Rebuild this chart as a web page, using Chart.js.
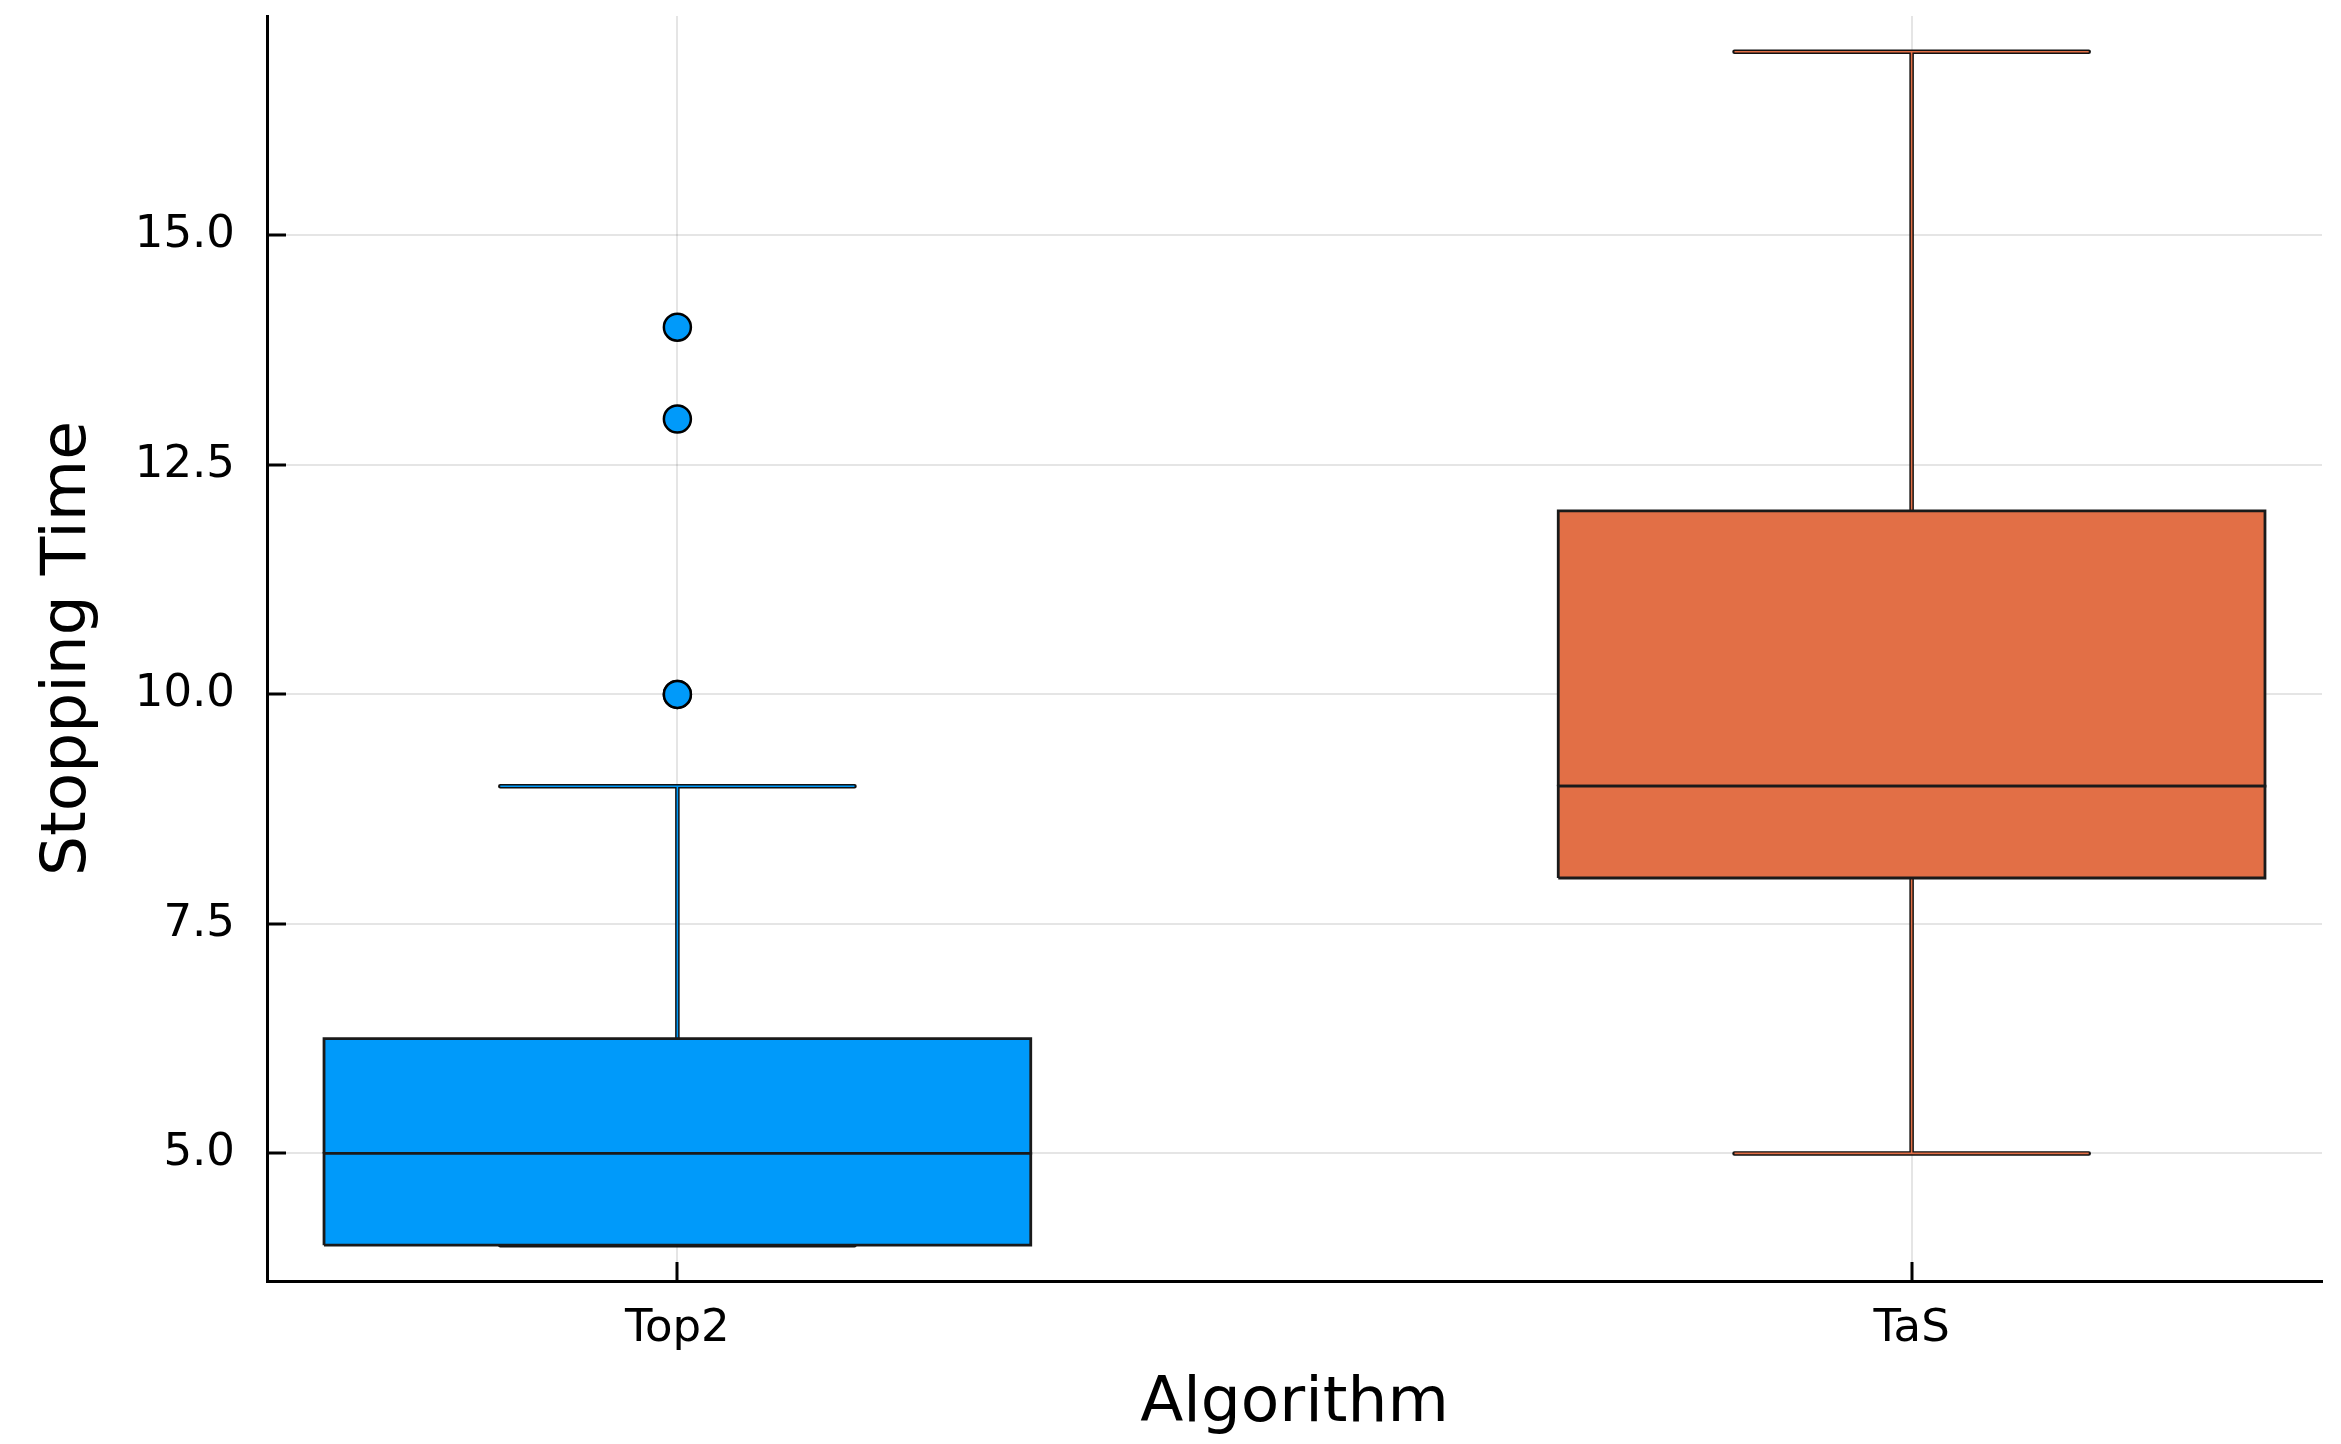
<!DOCTYPE html>
<html><head><meta charset="utf-8">
<script src="https://cdn.jsdelivr.net/npm/chart.js@4/dist/chart.umd.min.js"></script>
<style>html,body{margin:0;padding:0;background:#fff;overflow:hidden}</style>
</head><body>
<canvas id="c" width="2341" height="1444"></canvas>
<script>
// ---- data ----
const categories = ['Top2', 'TaS'];
const positions = [0.5, 1.5];
const lowerWhisker = [4, 5];
const q1 = [4, 8];
const medians = [5, 9];
const q3 = [6.25, 12];
const upperWhisker = [9, 17];
const outliers = [[10, 10, 13, 14], []];
const yTicks = [5, 7.5, 10, 12.5, 15];
const colors = ['#009AFA', '#E26F46'];

// ---- style constants ----
const BOX_HALF = 0.2863;
const CAP_HALF = 0.1435;
const FONT = 'DejaVu Sans';

const datasets = [];
categories.forEach((cat, i) => {
  const x = positions[i];
  const whisker = [
    {x: x, y: q3[i]}, {x: x, y: upperWhisker[i]}, {x: x, y: null},
    {x: x, y: lowerWhisker[i]}, {x: x, y: q1[i]}, {x: x, y: null},
    {x: x - CAP_HALF, y: upperWhisker[i]}, {x: x + CAP_HALF, y: upperWhisker[i]}, {x: x, y: null},
    {x: x - CAP_HALF, y: lowerWhisker[i]}, {x: x + CAP_HALF, y: lowerWhisker[i]}
  ];
  datasets.push({label: cat + ' whisker outline', data: whisker, borderColor: '#111', borderWidth: 4.5,
    pointRadius: 0, fill: false, order: 10, borderCapStyle: 'round'});
  datasets.push({label: cat + ' whisker', data: whisker, borderColor: colors[i], borderWidth: 1.6,
    pointRadius: 0, fill: false, order: 9});
  const halves = [[q1[i], medians[i]], [medians[i], q3[i]]];
  halves.forEach(([a, b], h) => {
    datasets.push({label: cat + ' box ' + h, data: [
      {x: x - BOX_HALF, y: a}, {x: x + BOX_HALF, y: a}, {x: x + BOX_HALF, y: b},
      {x: x - BOX_HALF, y: b}, {x: x - BOX_HALF, y: a}],
      borderColor: '#1a1a1a', borderWidth: 2.8, backgroundColor: colors[i],
      fill: 'shape', pointRadius: 0, order: 5, borderJoinStyle: 'miter'});
  });
  if (outliers[i].length) {
    datasets.push({label: cat + ' outliers', data: outliers[i].map(v => ({x: x, y: v})),
      showLine: false, pointRadius: 13.5, pointBorderWidth: 2.5,
      pointBackgroundColor: colors[i], pointBorderColor: '#000', order: 1});
  }
});

const innerTicks = {
  id: 'innerTicks',
  afterDraw(chart) {
    const {ctx, chartArea: a, scales: {x, y}} = chart;
    ctx.save();
    ctx.strokeStyle = '#000';
    ctx.lineWidth = 3;
    ctx.beginPath();
    y.ticks.forEach(t => {
      const py = Math.round(y.getPixelForValue(t.value));
      ctx.moveTo(a.left, py); ctx.lineTo(a.left + 19, py);
    });
    x.ticks.forEach(t => {
      const px = Math.round(x.getPixelForValue(t.value));
      ctx.moveTo(px, a.bottom); ctx.lineTo(px, a.bottom - 19);
    });
    ctx.stroke();
    ctx.restore();
  }
};

new Chart(document.getElementById('c'), {
  type: 'line',
  data: {datasets},
  plugins: [innerTicks],
  options: {
    responsive: false,
    animation: false,
    devicePixelRatio: 1,
    layout: {padding: {left: 0, right: 19, top: 12, bottom: 0}},
    plugins: {legend: {display: false}, tooltip: {enabled: false}},
    elements: {line: {tension: 0}},
    scales: {
      x: {
        type: 'linear', min: 0.1675, max: 1.8325,
        afterBuildTicks: s => { s.ticks = positions.map(v => ({value: v})); },
        afterFit: s => { s.height = 163; s.paddingLeft = 0; s.paddingRight = 0; },
        ticks: {
          callback: v => categories[positions.indexOf(v)],
          font: {family: FONT, size: 45}, color: '#000', padding: 21, maxRotation: 0, autoSkip: false
        },
        grid: {color: 'rgba(0,0,0,0.1)', lineWidth: 2, drawTicks: false},
        border: {display: true, color: '#000', width: 3},
        title: {display: true, text: 'Algorithm', color: '#000',
          font: {family: FONT, size: 63, lineHeight: 1}, padding: {top: 0, bottom: 8}}
      },
      y: {
        type: 'linear', min: 3.61, max: 17.39,
        afterBuildTicks: s => { s.ticks = yTicks.map(v => ({value: v})); },
        afterFit: s => { s.width = 267; s.paddingTop = 0; s.paddingBottom = 0; },
        ticks: {
          callback: v => Number(v).toFixed(1),
          font: {family: FONT, size: 45}, color: '#000', padding: 32
        },
        grid: {color: 'rgba(0,0,0,0.1)', lineWidth: 2, drawTicks: false},
        border: {display: true, color: '#000', width: 3},
        title: {display: true, text: 'Stopping Time', color: '#000',
          font: {family: FONT, size: 63, lineHeight: 1}, padding: {top: 37, bottom: 0}}
      }
    }
  }
});
</script>
</body></html>
